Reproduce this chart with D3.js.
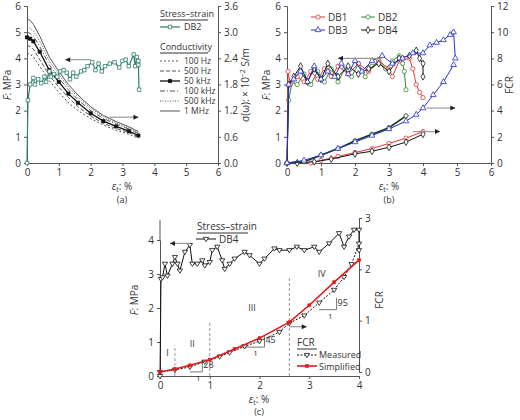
<!DOCTYPE html>
<html><head><meta charset="utf-8">
<script src="https://cdn.jsdelivr.net/npm/d3@7"></script>
<style>
body{margin:0;background:#fff}
text{font-family:"Open Sans",sans-serif;fill:#333}
.domain,.tick line{stroke:#555}
</style></head><body>
<svg id="fig" width="520" height="420"></svg>
<script>
// ---- panel (a) data ----
const aStrain = [0,0.03,0.1,0.2,0.25,0.35,0.45,0.55,0.6,0.7,0.75,0.85,0.95,1.05,1.15,1.25,1.35,1.45,1.55,1.7,1.8,1.9,2.05,2.15,2.25,2.35,2.45,2.6,2.75,2.9,3.0,3.1,3.2,3.35,3.4,3.45,3.5,3.5,3.52]
const aStress = [0,2.4,3.0,3.25,3.0,3.2,3.05,3.3,3.1,3.5,3.3,3.4,3.3,3.5,3.55,3.45,3.2,3.45,3.3,3.5,3.55,3.7,3.85,3.55,3.8,3.5,3.7,3.8,3.85,3.65,3.9,3.95,3.7,4.15,3.7,4.05,3.9,3.75,2.8]
const condStrain = [0,0.1,0.2,0.4,0.7,1.0,1.3,1.6,2.0,2.4,2.8,3.2,3.5]
const freqs = ["100 Hz","500 Hz","50 kHz","100 kHz","500 kHz","1 MHz"]
const cond100Hz  = [2.52,2.49,2.43,2.22,1.89,1.62,1.38,1.2,1.02,0.87,0.75,0.66,0.57]
const cond500Hz  = [2.70,2.67,2.61,2.37,2.01,1.74,1.5,1.29,1.08,0.91,0.79,0.70,0.60]
const cond50kHz  = [2.88,2.85,2.79,2.55,2.13,1.86,1.59,1.38,1.14,0.96,0.84,0.73,0.63]
const cond100kHz = [3.0,2.97,2.91,2.67,2.25,1.95,1.68,1.45,1.2,1.02,0.89,0.78,0.67]
const cond500kHz = [3.12,3.09,3.03,2.79,2.34,2.04,1.74,1.51,1.25,1.06,0.92,0.80,0.70]
const cond1MHz   = [3.3,3.27,3.18,2.91,2.43,2.1,1.8,1.56,1.29,1.09,0.95,0.83,0.72]
const sigmaTicks = [0,0.6,1.2,1.8,2.4,3.0,3.6]

// ---- panel (b) data ----
const db1Strain = [0,0.03,0.1,0.3,0.5,0.7,0.9,1.1,1.3,1.5,1.8,2.1,2.4,2.7,3.0,3.1,3.3,3.6,3.7,3.8,3.9,4.0]
const db1Stress = [0,3.5,3.0,3.3,3.1,3.5,3.2,3.6,3.3,3.7,3.4,3.8,3.5,3.9,3.6,3.3,3.9,4.0,3.6,3.0,2.7,2.5]
const db2Strain = [0,0.05,0.15,0.3,0.5,0.7,0.9,1.1,1.3,1.5,1.7,1.9,2.1,2.3,2.5,2.7,2.9,3.1,3.3,3.4,3.45,3.5]
const db2Stress = [0,2.4,3.1,3.0,3.4,3.0,3.5,3.1,3.6,3.1,3.6,3.3,3.8,3.3,3.7,3.9,3.6,3.9,4.1,3.8,3.5,2.8]
const db3Strain = [0,0.05,0.2,0.4,0.6,0.8,1.0,1.2,1.4,1.6,1.8,2.0,2.2,2.5,2.8,3.1,3.4,3.7,4.0,4.2,4.4,4.6,4.8,4.9,4.95]
const db3Stress = [0,3.0,3.2,3.5,3.1,3.7,3.2,3.5,3.3,3.8,3.4,3.9,3.5,3.9,4.1,3.8,4.0,4.2,4.2,4.5,4.6,4.7,4.9,5.0,4.0]
const db4Strain = [0,0.05,0.2,0.4,0.6,0.8,1.0,1.2,1.5,1.8,2.1,2.4,2.7,3.0,3.3,3.6,3.8,3.9,4.0,4.0]
const db4Stress = [0,3.0,3.3,3.7,3.1,3.6,3.2,3.8,3.3,3.7,3.4,3.6,3.8,3.5,4.0,4.1,4.3,4.0,3.8,3.3]
const fcr1Strain = [0.7,1.0,1.5,2.0,2.5,3.0,3.5,4.0]
const fcr1 = [0,0.2,0.5,0.8,1.1,1.5,1.9,2.4]
const fcr2Strain = [0,0.5,1.0,1.5,2.0,2.5,3.0,3.5]
const fcr2 = [0,0.1,0.6,1.1,1.7,2.2,2.7,3.6]
const fcr3Strain = [0,0.5,1.0,1.5,2.0,2.5,3.0,3.5,3.8,4.0,4.3,4.6,4.9]
const fcr3 = [0,0.2,0.6,1.1,1.6,2.1,2.6,3.2,3.7,4.2,5.2,6.2,7.5]
const fcr4Strain = [0.3,0.8,1.3,2.0,2.5,3.0,3.5,4.0]
const fcr4 = [0,0.1,0.3,0.7,0.9,1.2,1.6,2.2]

// ---- panel (c) data ----
const cStrain = [0,0.02,0.05,0.1,0.15,0.25,0.3,0.35,0.4,0.5,0.6,0.65,0.75,0.85,0.9,1.0,1.05,1.15,1.25,1.3,1.4,1.5,1.7,1.8,2.0,2.1,2.3,2.4,2.6,2.75,2.9,3.1,3.2,3.4,3.6,3.7,3.8,3.9,4.0,4.0]
const cStress = [0,2.85,2.9,3.3,2.95,3.3,3.5,3.3,3.1,3.65,3.85,3.3,3.3,3.4,3.25,3.35,3.7,3.8,3.4,3.15,3.3,3.45,3.65,3.55,3.3,3.45,3.75,3.7,3.7,3.8,3.7,3.8,3.65,3.9,4.2,3.8,4.1,4.3,4.3,3.7]
const measStrain = [0,0.3,0.6,0.9,1.2,1.4,1.7,2.0,2.4,2.6,2.9,3.2,3.5,3.7,3.85,4.0]
const measFcr = [0,0.04,0.1,0.2,0.3,0.38,0.5,0.6,0.78,0.95,1.1,1.35,1.6,1.85,2.1,2.5]
const simStrain = [0,0.3,0.6,1.0,1.5,2.0,2.6,3.0,3.5,4.0]
const simFcr = [0,0.06,0.13,0.24,0.45,0.66,0.97,1.3,1.75,2.18]
const stageBreaks = [0.3,1.0,2.6]

const svg = d3.select("#fig")

function frame(x0,x1,y0,y1,xs,yl,yr,rTicks){
  const g = svg.append("g")
  g.append("g").attr("transform","translate(0,"+y0+")").call(d3.axisBottom(xs).ticks(6).tickSize(3).tickFormat(d3.format("d")))
  g.append("g").attr("transform","translate("+x0+",0)").call(d3.axisLeft(yl).ticks(6).tickSize(3))
  const ra = d3.axisRight(yr).tickSize(3)
  if(rTicks) ra.tickValues(rTicks).tickFormat(d3.format(".1f")); else ra.ticks(6)
  g.append("g").attr("transform","translate("+x1+",0)").call(ra)
  g.selectAll(".tick text").style("font-size","10px")
  return g
}
function arrow(x1,y1,x2,y2){
  const dir = Math.sign(x2-x1)
  svg.append("line").attr("x1",x1).attr("y1",y1).attr("x2",x2).attr("y2",y2).attr("stroke","#999").attr("stroke-width",1.2)
  svg.append("path").attr("d","M"+x2+","+y2+"l"+(-5*dir)+",-2.5v5z").attr("fill","#222")
}
function series(xsA,ysA,xsc,ysc,color,opt){
  const pts = xsA.map((x,i)=>[xsc(x),ysc(ysA[i])])
  svg.append("path").attr("d",d3.line()(pts)).attr("fill","none").attr("stroke",color)
     .attr("stroke-width",opt.w||1).attr("stroke-dasharray",opt.dash||null)
  if(opt.marker){
    const sym = d3.symbol().type(opt.marker).size(opt.size||14)
    svg.append("g").selectAll("path").data(opt.mid ? [pts[1]] : pts).join("path")
      .attr("transform",d=>"translate("+d+")").attr("d",sym)
      .attr("fill",opt.fill||"#fff").attr("stroke",color).attr("stroke-width",0.8)
  }
}
// legend sample: short line with one marker in the middle
function sample(x,y,len,color,opt){
  const s = d3.scaleLinear().domain([0,0.5,1]).range([x,x+len/2,x+len])
  series([0,0.5,1],[0,0,0],s,()=>y,color,Object.assign({mid:true},opt))
}
function ylabel(x,y,html){
  svg.append("text").attr("transform","translate("+x+","+y+") rotate(-90)").attr("text-anchor","middle")
    .style("font-size","10px").html(html)
}
function xlabel(x,y){
  svg.append("text").attr("x",x).attr("y",y).attr("text-anchor","middle").style("font-size","10px")
    .html('<tspan font-style="italic">ε</tspan><tspan font-size="7" dy="2">t</tspan><tspan dy="-2">: %</tspan>')
}
function caption(x,y,t){ svg.append("text").attr("x",x).attr("y",y).attr("text-anchor","middle").style("font-size","9px").text(t) }
function title(x,y,t,w,fs){
  svg.append("text").attr("x",x).attr("y",y).style("font-size",(fs||10)+"px").text(t)
  svg.append("line").attr("x1",x).attr("x2",x+w).attr("y1",y+3).attr("y2",y+3).attr("stroke","#333")
}
const triDown = {draw(ctx,size){const r=Math.sqrt(size)/1.5;ctx.moveTo(-r,-r*0.6);ctx.lineTo(r,-r*0.6);ctx.lineTo(0,r);ctx.closePath()}}

// ===== panel (a) =====
const ax = d3.scaleLinear().domain([0,6]).range([27,218])
const ayL = d3.scaleLinear().domain([0,6]).range([163,6])
const ayR = d3.scaleLinear().domain([0,3.6]).range([163,6])
frame(27,218,163,6,ax,ayL,ayR,sigmaTicks)
const condSets = [cond100Hz,cond500Hz,cond50kHz,cond100kHz,cond500kHz,cond1MHz]
const condStyle = [{dash:"2,2"},{dash:"4,2"},{w:1.3,marker:d3.symbolSquare,fill:"#111",size:10},{dash:"5,2,1,2"},{dash:"1,1.5"},{}]
condSets.forEach((s,i)=>series(condStrain,s,ax,ayR,i==2?"#111":"#555",condStyle[i]))
series(aStrain,aStress,ax,ayL,"#2e7d6b",{w:1.2,marker:d3.symbolSquare,size:12})
arrow(ax(2.0),ayL(3.95),ax(1.2),ayL(3.95))
arrow(ax(2.6),ayL(1.75),ax(3.5),ayL(1.75))
title(160,17,"Stress–strain",48,9)
sample(160,27,20,"#2e7d6b",{w:1.2,marker:d3.symbolSquare,size:12})
svg.append("text").attr("x",184).attr("y",30).style("font-size","9px").text("DB2")
title(160,50,"Conductivity",48,9)
freqs.forEach((f,i)=>{
  const y = 61+i*10
  sample(160,y,20,i==2?"#111":"#555",condStyle[i])
  svg.append("text").attr("x",184).attr("y",y+3).style("font-size","8.5px").text(f)
})
ylabel(11,85,'<tspan font-style="italic">F</tspan>: MPa')
ylabel(249,85,'σ(ω): × 10<tspan dy="-4" font-size="7">−2</tspan><tspan dy="4"> S/m</tspan>')
xlabel(122,190); caption(122,203,"(a)")

// ===== panel (b) =====
const bx = d3.scaleLinear().domain([0,6]).range([287,491])
const byL = d3.scaleLinear().domain([0,6]).range([163,6])
const byR = d3.scaleLinear().domain([0,12]).range([163,6])
frame(287,491,163,6,bx,byL,byR)
const bCols = ["#e53935","#2e8b2e","#2530c8","#111"]
const bMarks = [d3.symbolCircle,d3.symbolCircle,d3.symbolTriangle,d3.symbolDiamond]
series(fcr1Strain,fcr1,bx,byR,bCols[0],{marker:bMarks[0]})
series(fcr4Strain,fcr4,bx,byR,bCols[3],{marker:bMarks[3]})
series(fcr2Strain,fcr2,bx,byR,"#1a3a1a",{w:1.6,marker:bMarks[1]})
series(fcr3Strain,fcr3,bx,byR,bCols[2],{marker:bMarks[2]})
series(db2Strain,db2Stress,bx,byL,bCols[1],{marker:bMarks[1]})
series(db1Strain,db1Stress,bx,byL,bCols[0],{marker:bMarks[0]})
series(db4Strain,db4Stress,bx,byL,bCols[3],{marker:bMarks[3]})
series(db3Strain,db3Stress,bx,byL,bCols[2],{marker:bMarks[2]})
arrow(bx(2.8),byL(4.0),bx(1.5),byL(4.0))
arrow(bx(4.1),byL(2.1),bx(4.95),byL(2.1))
arrow(bx(3.7),byL(1.2),bx(4.5),byL(1.2))
;["DB1","DB2","DB3","DB4"].forEach((n,i)=>{
  const lx = i%2 ? 361 : 311, ly = i<2 ? 17 : 30
  sample(lx,ly,14,bCols[i],{marker:bMarks[i]})
  svg.append("text").attr("x",lx+17).attr("y",ly+3.5).style("font-size","10px").text(n)
})
ylabel(270,85,'<tspan font-style="italic">F</tspan>: MPa')
ylabel(513,85,'FCR')
xlabel(389,190); caption(389,203,"(b)")

// ===== panel (c) =====
const cx = d3.scaleLinear().domain([0,4]).range([160,359])
const cyL = d3.scaleLinear().domain([0,4]).range([376,240])
const cyR = d3.scaleLinear().domain([0,3]).range([372,218])
const cg = svg.append("g")
cg.append("g").attr("transform","translate(0,376)").call(d3.axisBottom(cx).ticks(4).tickSize(3))
cg.append("g").attr("transform","translate(160,0)").call(d3.axisLeft(cyL).ticks(4).tickSize(3))
cg.append("path").attr("d","M160,240V220").attr("stroke","#555")
cg.append("g").attr("transform","translate(359,0)").call(d3.axisRight(cyR).ticks(3).tickSize(3))
cg.selectAll(".tick text").style("font-size","10px")
stageBreaks.forEach((b,i)=>{
  svg.append("line").attr("x1",cx(b)).attr("x2",cx(b)).attr("y1",376).attr("y2",cyL([0.9,1.6,2.9][i]))
    .attr("stroke","#999").attr("stroke-dasharray","3,2")
})
;[["I",0.15,0.6],["II",0.65,0.85],["III",1.85,1.9],["IV",3.25,2.9]].forEach(d=>
  svg.append("text").attr("x",cx(d[1])).attr("y",cyL(d[2])).attr("text-anchor","middle").style("font-size","9px").attr("fill","#555").text(d[0]))
// slope triangles
;[[0.6,0.85,0.12,"28"],[1.65,2.1,0.85,"45"],[3.2,3.55,1.95,"95"]].forEach(d=>{
  const x1=cx(d[0]),x2=cx(d[1]),y=cyL(d[2])
  svg.append("path").attr("d","M"+x1+","+y+"H"+x2+"V"+(y-12)).attr("fill","none").attr("stroke","#777")
  svg.append("text").attr("x",x2+1).attr("y",y-4).style("font-size","9px").text(d[3])
  svg.append("text").attr("x",(x1+x2)/2).attr("y",y+9).style("font-size","8px").text("1")
})
series(cStrain,cStress,cx,cyL,"#111",{marker:triDown,size:16})
series(measStrain,measFcr,cx,cyR,"#111",{dash:"2,1.5",marker:triDown,size:16})
series(simStrain,simFcr,cx,cyR,"#e41a1c",{w:1.6,marker:d3.symbolSquare,fill:"#e41a1c",size:8})
arrow(cx(0.6),cyL(3.9),cx(0.2),cyL(3.9))
arrow(cx(2.6),cyL(1.45),cx(2.95),cyL(1.45))
title(197,230,"Stress–strain",51)
sample(196,239,20,"#111",{marker:triDown,size:16})
svg.append("text").attr("x",219).attr("y",242.5).style("font-size","10px").text("DB4")
title(297,346,"FCR",20)
sample(297,355,20,"#111",{dash:"2,1.5",marker:triDown,size:16})
svg.append("text").attr("x",319).attr("y",358).style("font-size","9px").text("Measured")
sample(297,366,20,"#e41a1c",{w:1.6,marker:d3.symbolSquare,fill:"#e41a1c",size:8})
svg.append("text").attr("x",319).attr("y",369.5).style("font-size","9px").text("Simplified")
ylabel(138,300,'<tspan font-style="italic">F</tspan>: MPa')
ylabel(383,300,'FCR')
xlabel(259,403); caption(259,415,"(c)")
</script></body></html>
